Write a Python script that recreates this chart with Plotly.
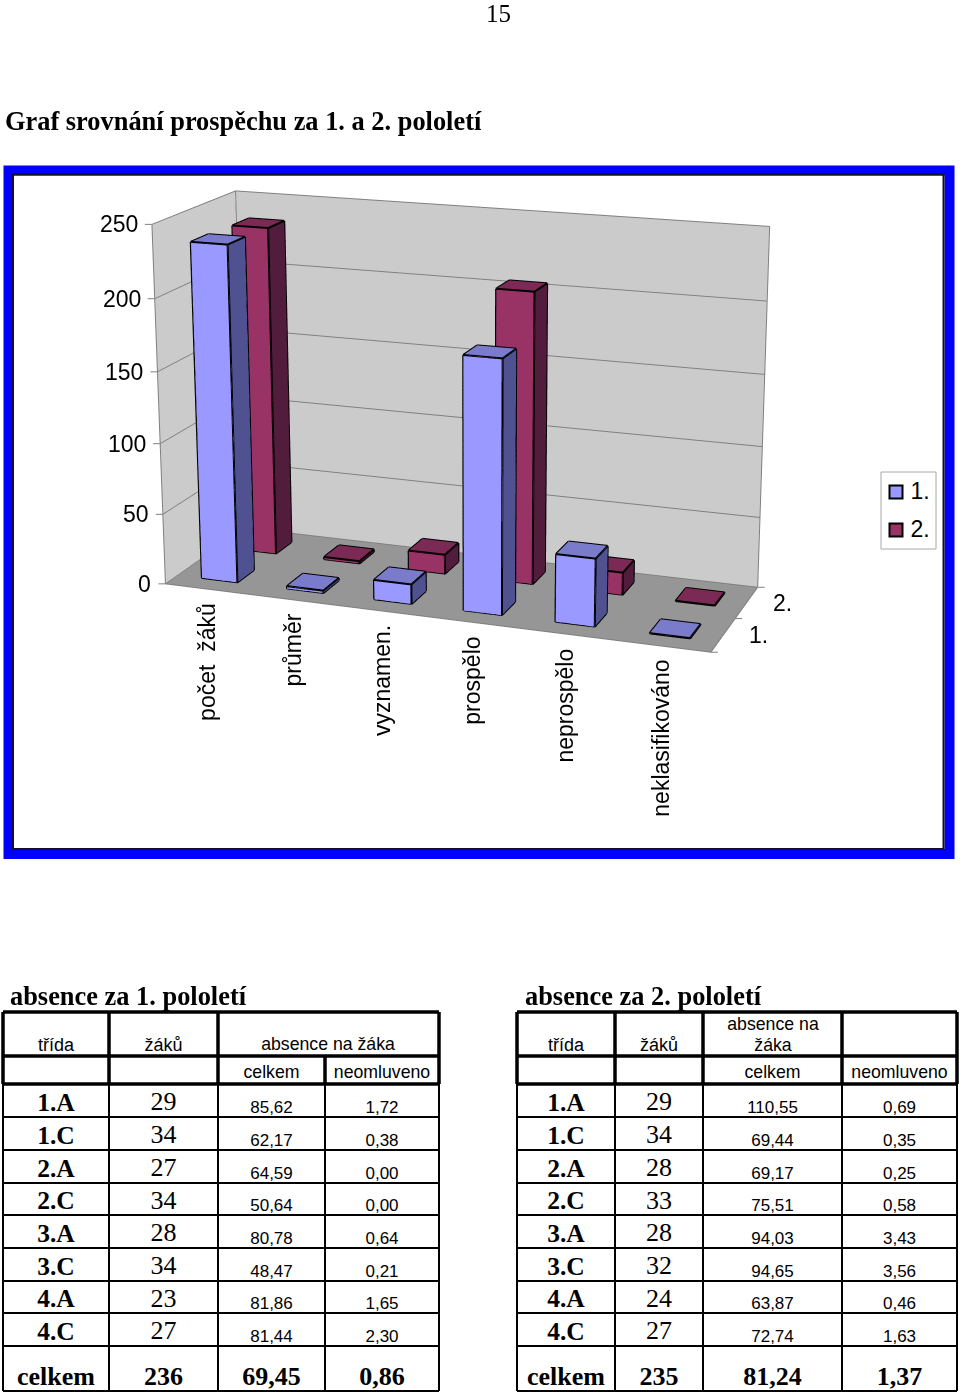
import plotly.graph_objects as go

PAGE_W, PAGE_H = 960, 1395
SANS = "Liberation Sans"
SERIF = "Liberation Serif"

categories = ["počet  žáků", "průměr", "vyznamen.", "prospělo", "neprospělo", "neklasifikováno"]
series_names = ["1.", "2."]
values_1 = [236, 1.9, 14, 175, 47, 0]
values_2 = [235, 1.9, 14, 205, 16, 0]
value_ticks = [0, 50, 100, 150, 200, 250]

classes = ["1.A", "1.C", "2.A", "2.C", "3.A", "3.C", "4.A", "4.C"]
pupils_1 = ["29", "34", "27", "34", "28", "34", "23", "27"]
total_1 = ["85,62", "62,17", "64,59", "50,64", "80,78", "48,47", "81,86", "81,44"]
unexcused_1 = ["1,72", "0,38", "0,00", "0,00", "0,64", "0,21", "1,65", "2,30"]
summary_1 = ["celkem", "236", "69,45", "0,86"]
pupils_2 = ["29", "34", "28", "33", "28", "32", "24", "27"]
total_2 = ["110,55", "69,44", "69,17", "75,51", "94,03", "94,65", "63,87", "72,74"]
unexcused_2 = ["0,69", "0,35", "0,25", "0,58", "3,43", "3,56", "0,46", "1,63"]
summary_2 = ["celkem", "235", "81,24", "1,37"]

# table layout, page pixels
row_lines = [1012, 1056, 1084, 1117, 1150, 1183, 1215, 1248, 1281, 1313, 1346, 1391]
cols_left = [3, 109, 218, 325, 439]
cols_right = [517, 615, 703, 842, 957]

# The figure is taller than the page and pulled up by OFFSET: plotly's 3D lens is
# fixed, so a tall viewport is the only way to get the flat perspective of the original.
FIG_H = 2000
OFFSET = 580

eye = dict(x=2.1307, y=-5.8491, z=1.7318)
center = dict(x=0.0517, y=0.0100, z=-0.0276)
aspect = dict(x=1.5347, y=0.5152, z=1.0)

FRONT = ["#9999FF", "#993366"]
SIDE = ["#4F5190", "#521C3C"]
TOP = ["#7B7BCC", "#7A2A55"]
BAR = 0.42
EDGES = [(0, 1), (1, 2), (2, 3), (3, 0), (4, 5), (5, 6), (6, 7), (7, 4), (0, 4), (1, 5), (2, 6), (3, 7)]


def bars_trace(vals, k):
    xs, ys, zs, ii, jj, kk, fc = [], [], [], [], [], [], []
    lx, ly, lz = [], [], []
    quads = [((0, 1, 5, 4), FRONT[k]), ((1, 2, 6, 5), SIDE[k]), ((4, 5, 6, 7), TOP[k]),
             ((0, 3, 7, 4), SIDE[k]), ((3, 2, 6, 7), FRONT[k])]
    for c, h in enumerate(vals):
        # zero bars still show as a thin plate, as in the original
        h = max(h, 0.4)
        x0, x1 = c + 0.5 - BAR / 2, c + 0.5 + BAR / 2
        y0, y1 = k + 0.5 - BAR / 2, k + 0.5 + BAR / 2
        base = len(xs)
        for z in (0.05, h):
            xs += [x0, x1, x1, x0]
            ys += [y0, y0, y1, y1]
            zs += [z] * 4
        for q, col in quads:
            ii += [base + q[0], base + q[0]]
            jj += [base + q[1], base + q[2]]
            kk += [base + q[2], base + q[3]]
            fc += [col, col]
        for a, b in EDGES:
            lx += [xs[base + a], xs[base + b], None]
            ly += [ys[base + a], ys[base + b], None]
            lz += [zs[base + a], zs[base + b], None]
    mesh = go.Mesh3d(x=xs, y=ys, z=zs, i=ii, j=jj, k=kk, facecolor=fc, flatshading=True,
                     lighting=dict(ambient=1, diffuse=0, specular=0, fresnel=0), hoverinfo="skip", scene="scene")
    edges = go.Scatter3d(x=lx, y=ly, z=lz, mode="lines", line=dict(color="black", width=4),
                         hoverinfo="skip", showlegend=False, scene="scene")
    return mesh, edges


fig = go.Figure()
for k, vals in enumerate([values_1, values_2]):
    for tr in bars_trace(vals, k):
        fig.add_trace(tr)

# wall and floor outline
n_cat = len(categories)
n_ser = len(series_names)
top = value_ticks[-1]
wx = [0, 0, 0, None, 0, 0, None, 0, n_cat, n_cat, None, 0, n_cat, n_cat]
wy = [0, 0, n_ser, None, n_ser, n_ser, None, n_ser, n_ser, n_ser, None, 0, 0, n_ser]
wz = [0, top, top, None, 0, top, None, top, top, 0, None, 0, 0, 0]
fig.add_trace(go.Scatter3d(x=wx, y=wy, z=wz, mode="lines", line=dict(color="#808080", width=2),
                           hoverinfo="skip", showlegend=False))


def text_trace(xs, ys, texts, family, size, weight="normal"):
    fig.add_trace(go.Scatter(x=xs, y=ys, text=texts, mode="text", showlegend=False, hoverinfo="skip",
                             textposition="middle center",
                             textfont=dict(family=family, size=size, color="black", weight=weight)))


# chart frame and legend box sit under everything else
shapes = [
    dict(type="rect", xref="x", yref="y", x0=8.5, x1=949.5, y0=170.5, y1=854, fillcolor="white", layer="below",
         line=dict(color="#0000FF", width=10)),
    dict(type="rect", xref="x", yref="y", x0=13, x1=943.5, y0=174.5, y1=849, layer="below",
         line=dict(color="#101030", width=2)),
    dict(type="rect", xref="x", yref="y", x0=881, x1=936, y0=472, y1=549, fillcolor="white", layer="below",
         line=dict(color="#A8A8A8", width=1)),
]


def hline(y, x0, x1, w):
    shapes.append(dict(type="line", xref="x", yref="y", x0=x0, x1=x1, y0=y, y1=y, line=dict(color="black", width=w)))


def vline(x, y0, y1, w):
    shapes.append(dict(type="line", xref="x", yref="y", x0=x, x1=x, y0=y0, y1=y1, line=dict(color="black", width=w)))


def table(cols, pupils, total, unexcused, summary, merged_header):
    for y in row_lines:
        hline(y, cols[0], cols[-1], 3.5 if y in row_lines[:3] else 2)
    for x in cols:
        start = row_lines[1] if (merged_header and x == cols[3]) else row_lines[0]
        vline(x, start, row_lines[2], 3.5)
        vline(x, row_lines[2], row_lines[-1], 2)
    mids = [(a + b) / 2 for a, b in zip(cols[:-1], cols[1:])]
    row_y = [(a + b) / 2 for a, b in zip(row_lines[2:-2], row_lines[3:-1])]
    text_trace([mids[0]] * 8, [y + 4 for y in row_y], classes, SERIF, 25.5, "bold")
    text_trace([mids[1]] * 8, [y + 3 for y in row_y], pupils, SERIF, 26)
    text_trace([mids[2]] * 8, [y + 8 for y in row_y], total, SANS, 17)
    text_trace([mids[3]] * 8, [y + 8 for y in row_y], unexcused, SANS, 17)
    text_trace(mids, [1378] * 4, summary, SERIF, 26, "bold")
    text_trace(mids[:2], [1046] * 2, ["třída", "žáků"], SANS, 18)
    text_trace(mids[2:], [1074] * 2, ["celkem", "neomluveno"], SANS, 17.7)


table(cols_left, pupils_1, total_1, unexcused_1, summary_1, True)
table(cols_right, pupils_2, total_2, unexcused_2, summary_2, False)
text_trace([328], [1046], ["absence na žáka"], SANS, 17.7)
text_trace([773, 773], [1026, 1047], ["absence na", "žáka"], SANS, 17.7)

# legend entries
for y, name, col in zip([492, 530], series_names, FRONT):
    fig.add_trace(go.Scatter(x=[896], y=[y], mode="markers", showlegend=False, hoverinfo="skip",
                             marker=dict(symbol="square", size=13, color=col, line=dict(color="black", width=2))))
    text_trace([920], [y + 1], [name], SANS, 23)

# page texts
page_notes = [
    dict(x=498, y=13, text="15", font=dict(family=SERIF, size=25, color="black"), xanchor="center"),
    dict(x=3, y=121, text="<b>Graf srovnání prospěchu za 1. a 2. pololetí</b>", font=dict(family=SERIF, size=26.4, color="black"), xanchor="left"),
    dict(x=8, y=996, text="<b>absence za 1. pololetí</b>", font=dict(family=SERIF, size=26.4, color="black"), xanchor="left"),
    dict(x=523, y=996, text="<b>absence za 2. pololetí</b>", font=dict(family=SERIF, size=26.4, color="black"), xanchor="left"),
]
for n in page_notes:
    n.update(xref="x", yref="y", showarrow=False, yanchor="middle")

scene_notes = []
for t in value_ticks:
    scene_notes.append(dict(x=0, y=0, z=t, text=" ", showarrow=True, ax=-10, ay=0, arrowhead=0, arrowwidth=1, arrowcolor="#808080"))
    scene_notes.append(dict(x=0, y=0, z=t, text=str(t), showarrow=False, xanchor="right", xshift=-12,
                            font=dict(family=SANS, size=23, color="black")))
for i in range(n_cat + 1):
    scene_notes.append(dict(x=i, y=0, z=0, text=" ", showarrow=True, ax=0, ay=10, arrowhead=0, arrowwidth=1, arrowcolor="#808080"))
for i, c in enumerate(categories):
    scene_notes.append(dict(x=i + 0.5, y=0, z=0, text=c, showarrow=False, textangle=-90, yanchor="top", yshift=-12, xshift=-1,
                            font=dict(family=SANS, size=23, color="black")))
for i in range(n_ser + 1):
    scene_notes.append(dict(x=n_cat, y=i, z=0, text=" ", showarrow=True, ax=10, ay=0, arrowhead=0, arrowwidth=1, arrowcolor="#808080"))
for i, s in enumerate(series_names):
    scene_notes.append(dict(x=n_cat, y=i + 0.5, z=0, text=s, showarrow=False, xanchor="left", xshift=24,
                            font=dict(family=SANS, size=23, color="black")))

fig.update_layout(
    width=PAGE_W, height=FIG_H, autosize=False,
    margin=dict(l=0, r=0, t=0, b=0),
    showlegend=False,
    plot_bgcolor="white", paper_bgcolor="white",
    xaxis=dict(range=[0, PAGE_W], visible=False, domain=[0, 1]),
    yaxis=dict(range=[PAGE_H, 0], visible=False, domain=[1 - (OFFSET + PAGE_H) / FIG_H, 1 - OFFSET / FIG_H]),
    shapes=shapes,
    annotations=page_notes,
    scene=dict(
        domain=dict(x=[0, 1], y=[0, 1]),
        aspectmode="manual",
        aspectratio=aspect,
        camera=dict(eye=eye, center=center, up=dict(x=0, y=0, z=1)),
        xaxis=dict(range=[0, n_cat], tickvals=list(range(n_cat + 1)), showticklabels=False, showgrid=False, title="",
                   showbackground=True, backgroundcolor="#CBCBCB", zeroline=False, showspikes=False),
        yaxis=dict(range=[0, n_ser], tickvals=list(range(n_ser + 1)), showticklabels=False, showgrid=False, title="",
                   showbackground=True, backgroundcolor="#CBCBCB", zeroline=False, showspikes=False),
        zaxis=dict(range=[0, top], tickvals=value_ticks, showticklabels=False, showgrid=True, gridcolor="#808080", title="",
                   showbackground=True, backgroundcolor="#969696", zeroline=False, showspikes=False),
        annotations=scene_notes,
    ),
)

page_css = ("document.body.style.margin='0';document.documentElement.style.overflow='hidden';"
            "document.getElementById('{plot_id}').style.marginTop='-%dpx';" % OFFSET)
fig.write_html("out.html", config={"displayModeBar": False}, post_script=page_css)
